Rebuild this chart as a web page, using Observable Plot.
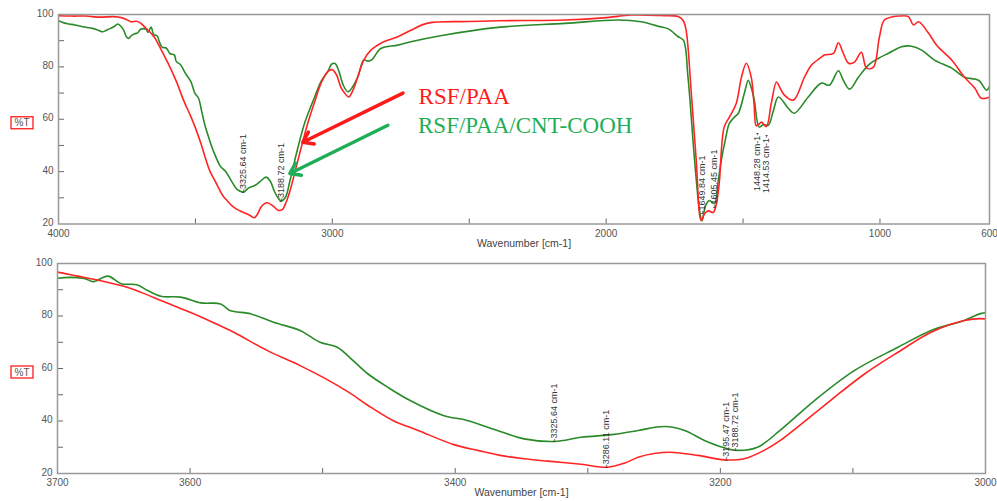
<!DOCTYPE html>
<html>
<head>
<meta charset="utf-8">
<script src="https://cdn.jsdelivr.net/npm/d3@7"></script>
<script src="https://cdn.jsdelivr.net/npm/@observablehq/plot@0.6"></script>
<style>
  body { margin: 0; background: #fff; }
  #chart { width: 997px; height: 501px; overflow: hidden; }
  #chart svg { display: block; }
  g[aria-label="xlabel"] text { letter-spacing: 0.9px; }
</style>
</head>
<body>
<div id="chart"></div>
<script>
// ---------- data ----------
const redWn = [4000,3950,3900,3850,3800,3770,3750,3735,3715,3700,3685,3668,3650,3637,3620,3600,3583,3567,3542,3517,3500,3479,3466,3447,3428,3401,3383,3366,3348,3330,3305,3285,3272,3262,3250,3238,3217,3197,3182,3167,3155,3142,3117,3091,3066,3041,3016,3000,2985,2969,2955,2940,2925,2907,2885,2859,2812,2761,2713,2651,2500,2395,2150,2000,1909,1800,1737,1718,1708,1689,1671,1653,1640,1627,1609,1597,1587,1569,1550,1525,1506,1488,1470,1460,1452,1443,1433,1415,1397,1378,1365,1349,1316,1276,1250,1214,1203,1170,1152,1134,1115,1093,1068,1049,1024,1002,984,950,933,896,878,859,823,793,738,691,654,629,600];
const redT  = [99.5,99.4,99.4,99.0,99.2,98.8,98.0,97.2,97.4,96.7,95.2,93.5,91.3,89.0,85.5,81.4,77.6,73.8,66.9,61.1,56.7,50.5,46.0,40.2,36.4,31.0,28.8,26.9,25.6,24.7,23.5,22.4,24.0,26.2,27.6,28.1,26.9,25.2,25.6,28.8,32.5,37.6,47.8,58.0,66.2,73.8,78.3,78.9,77.0,72.3,70.0,68.5,71.0,76.2,82.6,86.4,89.6,91.5,94.0,96.7,97.3,97.6,97.9,98.8,99.8,99.6,99.2,97.5,94.0,70.0,44.3,21.3,24.0,25.0,24.4,28.0,35.5,57.0,60.8,66.0,76.0,81.4,76.0,66.0,57.5,58.0,58.9,57.2,66.0,74.2,72.0,69.2,67.3,76.0,80.7,83.7,84.5,85.2,89.2,85.2,81.4,81.8,85.6,79.5,79.9,91.4,97.9,99.2,99.4,99.2,96.0,97.2,92.9,88.3,82.6,76.0,71.9,68.0,68.4];

const greenWn = [4000,3980,3963,3940,3912,3876,3855,3839,3825,3810,3795,3784,3772,3762,3752,3744,3735,3725,3711,3700,3680,3673,3662,3652,3640,3632,3622,3607,3592,3577,3570,3554,3537,3517,3502,3489,3477,3466,3451,3434,3409,3391,3366,3348,3325,3305,3280,3262,3242,3227,3212,3197,3187,3172,3155,3129,3099,3066,3041,3016,3003,2990,2975,2960,2943,2925,2907,2885,2870,2855,2823,2761,2713,2600,2395,2150,1956,1872,1810,1773,1737,1718,1701,1677,1659,1650,1637,1623,1605,1590,1580,1565,1550,1530,1517,1495,1481,1470,1459,1441,1425,1408,1390,1371,1335,1313,1262,1214,1185,1152,1134,1111,1079,1042,1005,969,921,885,848,801,738,691,640,611,600];
const greenT  = [97.6,96.8,96.4,96.0,95.3,94.7,94.0,93.4,94.0,94.7,95.5,96.4,95.5,94.0,91.5,90.9,91.8,92.5,93.0,94.4,94.3,93.1,95.2,92.3,91.9,89.7,87.5,87.2,85.0,84.6,82.1,80.8,77.6,74.5,70.0,68.1,63.0,58.0,52.9,47.8,42.1,40.2,36.0,33.2,32.2,33.8,34.9,36.4,37.9,36.4,32.6,29.8,28.8,30.0,36.4,47.8,59.2,68.1,74.5,78.3,81.0,81.3,78.0,73.0,70.5,72.5,76.2,82.6,82.2,82.8,87.0,88.3,89.6,92.0,95.1,96.6,97.9,97.2,95.5,94.5,91.5,90.2,76.0,44.3,25.2,21.3,27.0,29.0,27.8,37.0,44.0,52.0,58.4,61.0,62.3,70.0,74.9,72.0,67.3,57.0,58.0,57.7,63.0,68.5,64.2,62.3,68.5,73.8,73.0,78.5,74.9,71.5,76.0,80.7,83.3,85.2,87.7,87.9,86.4,82.6,79.5,76.0,74.9,71.1,72.6];

// ticks
const yTickLabels = [20, 40, 60, 80, 100];
const yTickMarks = [30, 40, 50, 60, 70, 80, 90];
const topXLabels = [4000, 3000, 2000, 1000, 600];
const topXTickMarks = [3500, 3000, 2500, 2000, 1500, 1000];
const botXLabels = [3700, 3600, 3400, 3200, 3000];
const botXTickMarks = [3600, 3500, 3400, 3300, 3200, 3100];

// peak annotations
const topPeakWn    = [3325.64, 3188.72, 1649.84, 1605.45, 1448.28, 1414.53];
const topPeakT     = [32.2, 28.8, 24.0, 26.3, 54.8, 54.0];
const topPeakLabel = ["3325.64 cm-1", "3188.72 cm-1", "1649.84 cm-1", "1605.45 cm-1", "1448.28 cm-1", "1414.53 cm-1"];
const topPeakDir   = ["up", "up", "up", "up", "down", "down"];
const botPeakWn    = [3325.64, 3286.11, 3195.47, 3188.72];
const botPeakT     = [32.2, 22.4, 25.2, 28.8];
const botPeakLabel = ["3325.64 cm-1", "3286.11 cm-1", "3195.47 cm-1", "3188.72 cm-1"];
const botPeakDir   = ["up", "up", "up", "up"];

// legend (in data coordinates of the top panel)
const legendLabels = ["RSF/PAA", "RSF/PAA/CNT-COOH"];
const legendWn = [2685, 2687];
const legendT = [68.6, 57.5];
const arrowFromWn = [2742, 2797];
const arrowFromT  = [70.0, 57.7];
const arrowToWn   = [3108, 3155];
const arrowToT    = [51.2, 39.3];

// ---------- styles ----------
const RED_LINE = "#ff2424";
const GREEN_LINE = "#2a8a2a";
const RED_TEXT = "#ff1a1a";
const GREEN_TEXT = "#1fae57";
const SANS = "'Liberation Sans', Arial, sans-serif";
const SERIF = "'Liberation Serif', 'Times New Roman', serif";

const red = redWn.map((w, i) => ({w, t: redT[i]}));
const green = greenWn.map((w, i) => ({w, t: greenT[i]}));

function percentBox(index, scales) {
  const cy = scales.y(60) + 4;
  const g = d3.create("svg:g");
  g.append("rect").attr("x", 11).attr("y", cy - 6).attr("width", 22).attr("height", 12)
    .attr("fill", "none").attr("stroke", RED_TEXT).attr("stroke-width", 1.3);
  g.append("text").attr("x", 22).attr("y", cy).attr("dy", "0.35em")
    .attr("text-anchor", "middle").attr("font-size", 10).attr("fill", "#555")
    .attr("font-family", SANS).text("%T");
  return g.node();
}

function makePanel({height, mt, mb, ml, mr, xDomain, xLabels, xTickMarks, peakWn, peakT, peakLabel, peakDir, extra = []}) {
  const W = 997;
  const innerW = W - ml - mr, innerH = height - mt - mb;
  const peaks = peakWn.map((w, i) => ({w, t: peakT[i], label: peakLabel[i], dir: peakDir[i]}));
  const up = peaks.filter(p => p.dir === "up");
  const down = peaks.filter(p => p.dir === "down");
  return Plot.plot({
    width: W, height,
    marginTop: mt, marginBottom: mb, marginLeft: ml, marginRight: mr,
    x: {domain: xDomain},
    y: {domain: [20, 100]},
    style: {fontFamily: SANS, background: "#fff", overflow: "visible"},
    marks: [
      Plot.axisX(xLabels, {tickSize: 0, tickPadding: 5.5, fontSize: 10, color: "#555", tickFormat: d => String(d), label: null}),
      Plot.axisY(yTickLabels, {tickSize: 0, tickPadding: 5, fontSize: 10, color: "#555", dy: -1, label: null}),
      Plot.tickX(xTickMarks, {x: d => d, insetTop: innerH - 5, stroke: "#666"}),
      Plot.tickY(yTickMarks, {y: d => d, insetRight: innerW - 6, stroke: "#666"}),
      Plot.line(green, {x: "w", y: "t", stroke: GREEN_LINE, strokeWidth: 1.6, curve: "catmull-rom", clip: true}),
      Plot.line(red, {x: "w", y: "t", stroke: RED_LINE, strokeWidth: 1.6, curve: "catmull-rom", clip: true}),
      Plot.text(up, {x: "w", y: "t", text: d => "-" + d.label, rotate: -90, textAnchor: "start", lineAnchor: "middle", fontSize: 9, fill: "#333"}),
      Plot.text(down, {x: "w", y: "t", text: d => d.label + "-", rotate: -90, textAnchor: "end", lineAnchor: "middle", fontSize: 9, fill: "#333"}),
      Plot.text(peaks, {x: "w", y: "t", text: () => "-", fontSize: 9, fill: "#333"}),
      ...extra,
      Plot.text(["Wavenumber [cm-1]"], {frameAnchor: "bottom", dy: 19.5, lineAnchor: "middle", fontSize: 10.5, fill: "#444", ariaLabel: "xlabel"}),
      percentBox,
      Plot.frame({stroke: "#999", strokeWidth: 1.5})
    ]
  });
}

const legendRed = [{w: legendWn[0], t: legendT[0], label: legendLabels[0]}];
const legendGreen = [{w: legendWn[1], t: legendT[1], label: legendLabels[1]}];
const arrowRed = [{x1: arrowFromWn[0], y1: arrowFromT[0], x2: arrowToWn[0], y2: arrowToT[0]}];
const arrowGreen = [{x1: arrowFromWn[1], y1: arrowFromT[1], x2: arrowToWn[1], y2: arrowToT[1]}];

const topPlot = makePanel({
  height: 250, mt: 14, mb: 26.5, ml: 58, mr: 8,
  xDomain: [4000, 600], xLabels: topXLabels, xTickMarks: topXTickMarks,
  peakWn: topPeakWn, peakT: topPeakT, peakLabel: topPeakLabel, peakDir: topPeakDir,
  extra: [
    Plot.arrow(arrowRed, {x1: "x1", y1: "y1", x2: "x2", y2: "y2", stroke: RED_TEXT, strokeWidth: 3.5, headLength: 5, headAngle: 70}),
    Plot.arrow(arrowGreen, {x1: "x1", y1: "y1", x2: "x2", y2: "y2", stroke: GREEN_TEXT, strokeWidth: 3.5, headLength: 5, headAngle: 70}),
    Plot.text(legendRed, {x: "w", y: "t", text: "label", textAnchor: "start", lineAnchor: "middle", fontSize: 23, fontFamily: SERIF, fill: RED_TEXT}),
    Plot.text(legendGreen, {x: "w", y: "t", text: "label", textAnchor: "start", lineAnchor: "middle", fontSize: 23, fontFamily: SERIF, fill: GREEN_TEXT})
  ]
});

const bottomPlot = makePanel({
  height: 251, mt: 13, mb: 28, ml: 57, mr: 12,
  xDomain: [3700, 3000], xLabels: botXLabels, xTickMarks: botXTickMarks,
  peakWn: botPeakWn, peakT: botPeakT, peakLabel: botPeakLabel, peakDir: botPeakDir
});

const chart = document.getElementById("chart");
chart.appendChild(topPlot);
chart.appendChild(bottomPlot);
</script>
</body>
</html>
